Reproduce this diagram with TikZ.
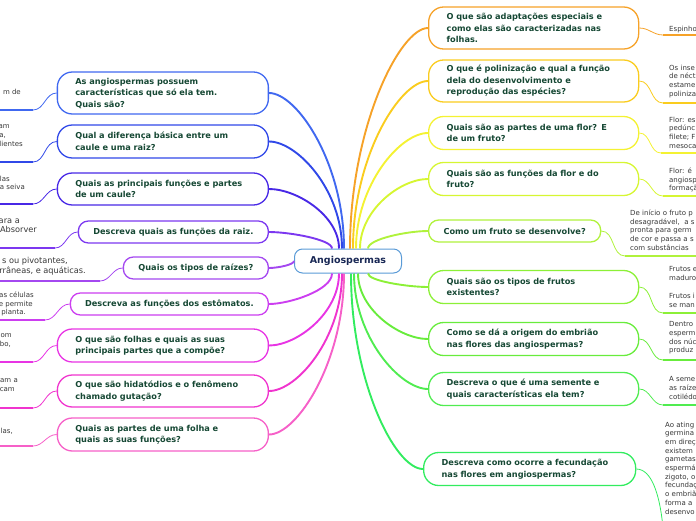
\documentclass[tikz,border=0pt]{standalone}
\usepackage{fontspec}
\setsansfont{DejaVu Sans}
\usetikzlibrary{calc}

\definecolor{qtext}{RGB}{22,72,52}
\definecolor{leaftext}{RGB}{55,55,55}
\definecolor{cenline}{RGB}{90,155,215}
\definecolor{centext}{RGB}{25,40,85}
% lado direito
\definecolor{ra}{RGB}{246,162,40}
\definecolor{rb}{RGB}{250,204,30}
\definecolor{rc}{RGB}{244,242,50}
\definecolor{rd}{RGB}{214,246,50}
\definecolor{re}{RGB}{176,242,60}
\definecolor{rf}{RGB}{140,240,55}
\definecolor{rg}{RGB}{104,236,60}
\definecolor{rh}{RGB}{80,236,80}
\definecolor{ri}{RGB}{50,236,95}
% lado esquerdo
\definecolor{la}{RGB}{64,104,240}
\definecolor{lb}{RGB}{48,72,232}
\definecolor{lc}{RGB}{72,40,230}
\definecolor{ld}{RGB}{124,56,240}
\definecolor{le}{RGB}{164,72,240}
\definecolor{lf}{RGB}{204,62,240}
\definecolor{lg}{RGB}{232,52,228}
\definecolor{lh}{RGB}{240,52,206}
\definecolor{li}{RGB}{246,96,200}

\tikzset{
  quest/.style={draw=#1, line width=1.3pt, fill=white, rounded corners=15pt,
    text=qtext, font=\sffamily\bfseries\fontsize{8.2}{11.5}\selectfont,
    align=left, inner xsep=18pt, inner ysep=0pt},
  rq/.style={quest=#1, anchor=west},
  lq/.style={quest=#1, anchor=east},
  one/.style={align=center, inner xsep=0pt, minimum height=22pt, rounded corners=10pt},
  cen/.style={draw=cenline, line width=1pt, fill=white, rounded corners=8pt,
    minimum width=107pt, minimum height=24pt, text=centext,
    font=\sffamily\bfseries\fontsize{9.5}{11}\selectfont},
  leaf/.style={font=\sffamily\fontsize{7}{8.7}\selectfont, text=leaftext, inner sep=0pt},
  bigleaf/.style={font=\sffamily\fontsize{8.2}{9.6}\selectfont, text=leaftext, inner sep=0pt},
  mainline/.style={draw=#1, line width=1.9pt},
  thinline/.style={draw=#1, line width=0.8pt},
  underl/.style={draw=#1, line width=2.6pt}
}

\begin{document}
\begin{tikzpicture}[x=1pt,y=-1pt]
\useasboundingbox (0,0) rectangle (696,520);
\clip (0,0) rectangle (696,520);

\node[cen] (cen) at (348,261) {Angiospermas};

% perguntas da direita
\node[rq=ra, text width=174pt, minimum height=42pt] (adapt) at (428,28) {O que são adaptações especiais e\\como elas são caracterizadas nas\\folhas.};
\node[rq=rb, text width=174pt, minimum height=42pt] (poliniz) at (428,81) {O que é polinização e qual a função\\dela do desenvolvimento e\\reprodução das espécies?};
\node[rq=rc, text width=174pt, minimum height=33pt] (partes) at (428,133) {Quais são as partes de uma flor? E\\de um fruto?};
\node[rq=rd, text width=174pt, minimum height=33pt] (funcoes) at (428,179) {Quais são as funções da flor e do\\fruto?};
\node[rq=re, one, minimum width=172pt] (desenv) at (428,231) {Como um fruto se desenvolve?};
\node[rq=rf, text width=174pt, minimum height=33pt] (tipos) at (428,287) {Quais são os tipos de frutos\\existentes?};
\node[rq=rg, text width=174pt, minimum height=33pt] (embriao) at (428,339) {Como se dá a origem do embrião\\nas flores das angiospermas?};
\node[rq=rh, text width=174pt, minimum height=33pt] (semente) at (428,389) {Descreva o que é uma semente e\\quais características ela tem?};
\node[rq=ri, text width=176pt, minimum height=33pt] (fecund) at (423,469) {Descreva como ocorre a fecundação\\nas flores em angiospermas?};

% perguntas da esquerda
\node[lq=la, text width=175pt, minimum height=42pt] (caract) at (269,93) {As angiospermas possuem\\características que só ela tem.\\Quais são?};
\node[lq=lb, text width=175pt, minimum height=33pt] (diferenca) at (269,141.5) {Qual a diferença básica entre um\\caule e uma raiz?};
\node[lq=lc, text width=175pt, minimum height=32pt] (caule) at (269,189) {Quais as principais funções e partes\\de um caule?};
\node[lq=ld, one, minimum width=190pt] (raiz) at (269,232) {Descreva quais as funções da raiz.};
\node[lq=le, one, minimum width=145pt] (tiposraiz) at (269,268) {Quais os tipos de raízes?};
\node[lq=lf, one, minimum width=198pt] (estomatos) at (269,304) {Descreva as funções dos estômatos.};
\node[lq=lg, text width=175pt, minimum height=33pt] (folhas) at (269,345.5) {O que são folhas e quais as suas\\principais partes que a compõe?};
\node[lq=lh, text width=175pt, minimum height=32pt] (hidat) at (269,391) {O que são hidatódios e o fenômeno\\chamado gutação?};
\node[lq=li, text width=175pt, minimum height=33pt] (partesfolha) at (269,434.5) {Quais as partes de uma folha e\\quais as suas funções?};

% respostas (cortadas na borda)
\node[leaf, anchor=north west] (adapt-t) at (669,25.5) {Espinho};
\node[leaf, anchor=north west, align=left] (poliniz-t) at (669,64.5) {Os inse\\de néct\\estame\\poliniza};
\node[leaf, anchor=north west, align=left] (partes-t) at (669,116.5) {Flor: es\\pedúnc\\filete; F\\mesoca};
\node[leaf, anchor=north west, align=left] (funcoes-t) at (669,167.5) {Flor: é\\angiosp\\formaçã};
\node[leaf, anchor=north west, align=left] (desenv-t) at (630,209.5) {De início o fruto p\\desagradável,\ \ a s\\pronta para germ\\de cor e passa a s\\com substâncias};
\node[leaf, anchor=north west, align=left] (tipos-t) at (669,266.5) {Frutos e\\maduro\\[9.5pt]Frutos i\\se man};
\node[leaf, anchor=north west, align=left] (embriao-t) at (669,321.5) {Dentro\\esperm\\dos núc\\produz};
\node[leaf, anchor=north west, align=left] (semente-t) at (669,376.5) {A seme\\as raíze\\cotilédo};
\node[leaf, anchor=north west, align=left] (fecund-t) at (665,421.5) {Ao ating\\germina\\em direç\\existem\\gametas\\espermá\\zigoto, o\\fecundaç\\o embriã\\forma a\\desenvo};

\node[leaf, anchor=north east] (caract-t) at (21,88.5) {m de};
\node[leaf, anchor=north east, align=right] (diferenca-t) at (23,124.5) {am\kern13pt\\a,\kern17pt\\lientes};
\node[leaf, anchor=north east, align=right] (caule-t) at (25,175.5) {las\kern15pt\\a seiva};
\node[bigleaf, anchor=north east, align=right] (raiz-t) at (37,218.5) {ara a\kern17pt\\Absorver};
\node[bigleaf, anchor=north east, align=right] (tiposraiz-t) at (86,257.5) {s ou pivotantes,\kern18pt\\rrâneas, e aquáticas.};
\node[leaf, anchor=north east, align=right] (estomatos-t) at (34,291.5) {as células\\e permite\kern1pt\\planta.\kern8pt};
\node[leaf, anchor=north east, align=right] (folhas-t) at (12,333.5) {om\\bo,\kern1pt};
\node[leaf, anchor=north east, align=right] (hidat-t) at (18,378.5) {am a\\cam\kern3pt};
\node[leaf, anchor=north east] (partesfolha-t) at (13,427.5) {las,};

% ramos principais
\foreach \n/\c/\a/\dx/\e/\k in {
  adapt/ra/north/2/west/-28, poliniz/rb/north/5/west/-28,
  partes/rc/north/8/west/-28, funcoes/rd/north/12/west/-28,
  desenv/re/north/20/west/-20, tipos/rf/south/20/west/-20,
  embriao/rg/south/10/west/-28, semente/rh/south/6/west/-28,
  fecund/ri/south/3/west/-28,
  caract/la/north/-4/east/28, diferenca/lb/north/-6/east/28,
  caule/lc/north/-9/east/28, raiz/ld/north/-16/east/20,
  tiposraiz/le/west/0/east/8, estomatos/lf/south/-16/east/20,
  folhas/lg/south/-9/east/28, hidat/lh/south/-6/east/28,
  partesfolha/li/south/-4/east/28}{
  \coordinate (s) at ([xshift=\dx pt]cen.\a);
  \draw[mainline=\c] (s) .. controls ($(s)!.55!(s|-\n.\e)$) and ($(\n.\e)+(\k,0)$) .. (\n.\e);
}

% sublinhados das respostas
\coordinate (adapt-u) at (663,35);
\coordinate (poliniz-u) at (663,103);
\coordinate (partes-u) at (661,153);
\coordinate (funcoes-u) at (663,196);
\coordinate (desenv-u) at (625,256);
\coordinate (tipos-u) at (663,313);
\coordinate (embriao-u) at (663,360);
\coordinate (semente-u) at (663,405);
\coordinate (fecund-u) at (664,545);
\coordinate (caract-u) at (33,110);
\coordinate (diferenca-u) at (33,162);
\coordinate (caule-u) at (33,204);
\coordinate (raiz-u) at (55,248);
\coordinate (tiposraiz-u) at (100,281);
\coordinate (estomatos-u) at (45,320);
\coordinate (folhas-u) at (33,362);
\coordinate (hidat-u) at (33,408);
\coordinate (partesfolha-u) at (33,446);

\foreach \n/\c in {adapt/ra, poliniz/rb, partes/rc, funcoes/rd, desenv/re,
  tipos/rf, embriao/rg, semente/rh}{
  \draw[thinline=\c] (\n.east) to[out=0,in=180] (\n-u);
  \draw[underl=\c] (\n-u) -- ++(80,0);
}
\draw[thinline=ri] (fecund.east) to[out=0,in=270] (fecund-u);

\foreach \n/\c in {caract/la, diferenca/lb, caule/lc, raiz/ld, tiposraiz/le,
  estomatos/lf, folhas/lg, hidat/lh, partesfolha/li}{
  \draw[thinline=\c] (\n.west) to[out=180,in=0] (\n-u);
  \draw[underl=\c] (\n-u) -- ++(-120,0);
}
\end{tikzpicture}
\end{document}
